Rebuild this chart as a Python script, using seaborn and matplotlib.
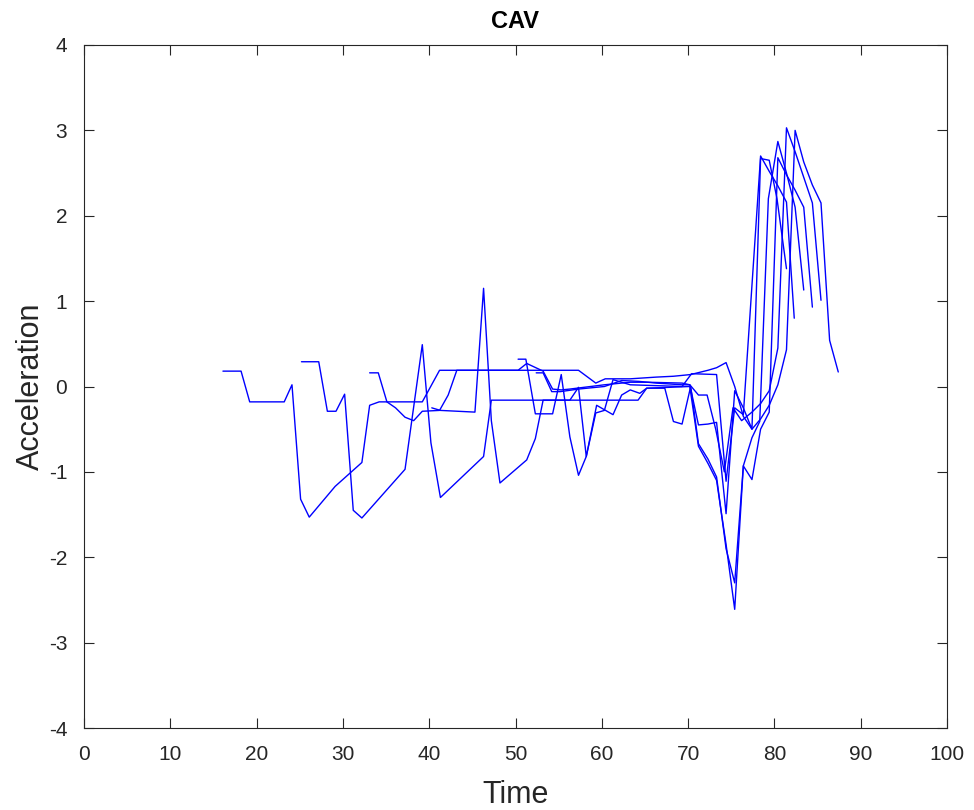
import matplotlib
matplotlib.use("Agg")
import matplotlib.pyplot as plt
import seaborn as sns
import pandas as pd

# ---- data ----
t_v1 = [16.1, 18.2, 19.2, 23.2, 24.1, 25.1, 26.1, 29.1, 32.2, 33.1, 34.2, 39.2, 41.2, 57.3, 59.3, 60.4,
        63.3, 66.3, 68.3, 70.3, 72.3, 73.3, 74.4, 75.4, 76.4, 77.4, 78.4, 79.4, 80.4, 81.4, 82.4, 83.4,
        84.4, 85.4, 86.4, 87.4]
a_v1 = [0.18, 0.18, -0.18, -0.18, 0.02, -1.32, -1.53, -1.17, -0.89, -0.22, -0.18, -0.18, 0.19, 0.19, 0.04, 0.09,
        0.09, 0.11, 0.12, 0.14, 0.19, 0.22, 0.28, 0.0, -0.35, -0.50, -0.38, -0.22, 0.02, 0.43, 3.00, 2.63,
        2.36, 2.15, 0.54, 0.17]

t_v2 = [25.2, 27.2, 28.2, 29.2, 30.2, 31.2, 32.2, 37.2, 39.2, 40.2, 41.3, 46.3, 47.2, 56.3, 57.3, 58.2,
        59.3, 60.3, 61.3, 62.3, 63.3, 69.3, 70.4, 73.3, 74.4, 75.4, 76.4, 78.4, 79.4, 80.4, 81.4, 82.3]
a_v2 = [0.29, 0.29, -0.29, -0.29, -0.09, -1.45, -1.54, -0.97, 0.49, -0.66, -1.30, -0.82, -0.16, -0.16, -0.01, -0.82,
        -0.31, -0.28, 0.08, 0.05, 0.02, 0.0, 0.15, 0.14, -1.11, -0.25, -0.33, 2.70, 2.52, 2.35, 2.16, 0.80]

t_v3 = [33.1, 34.1, 35.1, 36.1, 37.2, 38.2, 39.2, 41.2, 42.2, 43.2, 50.3, 51.3, 53.2, 54.3, 55.3, 56.3,
        60.3, 63.3, 65.3, 69.3, 70.2, 71.2, 72.3, 73.3, 74.4, 75.4, 76.4, 77.4, 78.4, 79.4, 80.3, 81.4]
a_v3 = [0.16, 0.16, -0.18, -0.25, -0.36, -0.40, -0.29, -0.28, -0.10, 0.19, 0.19, 0.27, 0.18, -0.03, -0.04, -0.03,
        0.02, 0.05, 0.05, 0.04, 0.02, -0.45, -0.44, -0.42, -1.49, -0.05, -0.25, -0.50, 2.67, 2.65, 2.20, 1.38]

t_v4 = [40.3, 41.3, 45.3, 46.3, 47.2, 48.2, 51.3, 52.3, 53.2, 64.2, 65.2, 67.3, 68.3, 69.3, 70.3, 71.2,
        72.3, 73.3, 74.4, 75.4, 76.4, 77.4, 78.3, 79.3, 80.4, 81.4, 82.4, 83.4]
a_v4 = [-0.25, -0.28, -0.30, 1.15, -0.40, -1.13, -0.86, -0.61, -0.16, -0.16, -0.02, -0.02, -0.41, -0.44, 0.0, -0.67,
        -0.85, -1.06, -1.90, -2.30, -0.93, -0.60, -0.41, 2.20, 2.87, 2.50, 2.10, 1.13]

t_v5 = [50.3, 51.2, 52.3, 54.3, 55.3, 56.3, 57.3, 58.2, 59.4, 61.3, 62.3, 63.3, 64.4, 65.2, 70.2, 71.2,
        72.3, 73.3, 74.4, 75.4, 76.4, 77.4, 78.4, 79.4, 80.4, 81.4, 82.4, 83.4, 84.4]
a_v5 = [0.32, 0.32, -0.32, -0.32, 0.14, -0.59, -1.04, -0.82, -0.22, -0.33, -0.10, -0.04, -0.08, -0.02, 0.0, -0.70,
        -0.90, -1.10, -1.85, -2.61, -0.93, -1.09, -0.50, -0.30, 2.68, 2.48, 2.30, 2.10, 0.93]

t_v6 = [52.4, 53.2, 54.2, 55.2, 57.3, 60.3, 62.3, 64.3, 66.3, 69.3, 70.2, 71.2, 72.2, 73.2, 74.2, 75.2,
        76.2, 77.4, 78.4, 79.4, 80.4, 81.4, 82.4, 83.4, 84.4, 85.4]
a_v6 = [0.16, 0.16, -0.06, -0.06, -0.03, 0.0, 0.07, 0.06, 0.04, 0.02, 0.02, -0.10, -0.10, -0.50, -1.00, -0.25,
        -0.40, -0.30, -0.20, -0.05, 0.45, 3.03, 2.75, 2.45, 2.15, 1.01]

vehicles = ["V1", "V2", "V3", "V4", "V5", "V6"]
times = [t_v1, t_v2, t_v3, t_v4, t_v5, t_v6]
accs = [a_v1, a_v2, a_v3, a_v4, a_v5, a_v6]

x_ticks = [0, 10, 20, 30, 40, 50, 60, 70, 80, 90, 100]
y_ticks = [-4, -3, -2, -1, 0, 1, 2, 3, 4]

rows = []
for v, t, a in zip(vehicles, times, accs):
    for ti, ai in zip(t, a):
        rows.append({"vehicle": v, "Time": ti, "Acceleration": ai})
df = pd.DataFrame(rows)

# ---- style ----
sns.set_theme(style="white")
plt.rcParams["font.family"] = ["Liberation Sans", "DejaVu Sans"]
ink = "#262626"

fig = plt.figure(figsize=(9.74, 8.10), dpi=100)
ax = fig.add_axes([84 / 974, 1 - 728 / 810, (947 - 84) / 974, (728 - 45) / 810])

sns.lineplot(data=df, x="Time", y="Acceleration", units="vehicle", estimator=None,
             sort=False, color=(0, 0, 1), lw=1.0, ax=ax, legend=False)

ax.set_xlim(0, 100)
ax.set_ylim(-4, 4)
ax.set_xticks(x_ticks)
ax.set_yticks(y_ticks)
ax.set_xticklabels([str(v) for v in x_ticks])
ax.set_yticklabels([str(v) for v in y_ticks])
ax.tick_params(direction="in", length=7, width=0.8, colors=ink, labelsize=15,
               top=True, right=True, bottom=True, left=True)
ax.tick_params(axis="x", pad=12)
ax.tick_params(axis="y", pad=12)
for s in ax.spines.values():
    s.set_visible(True)
    s.set_color(ink)
    s.set_linewidth(0.8)
ax.grid(False)
ax.set_xlabel("Time", fontsize=22, color=ink, labelpad=12)
ax.set_ylabel("Acceleration", fontsize=22, color=ink, labelpad=2)
ax.set_title("CAV", fontsize=17, fontweight="bold", color="black", pad=12)

fig.savefig("out.png", dpi=100)
